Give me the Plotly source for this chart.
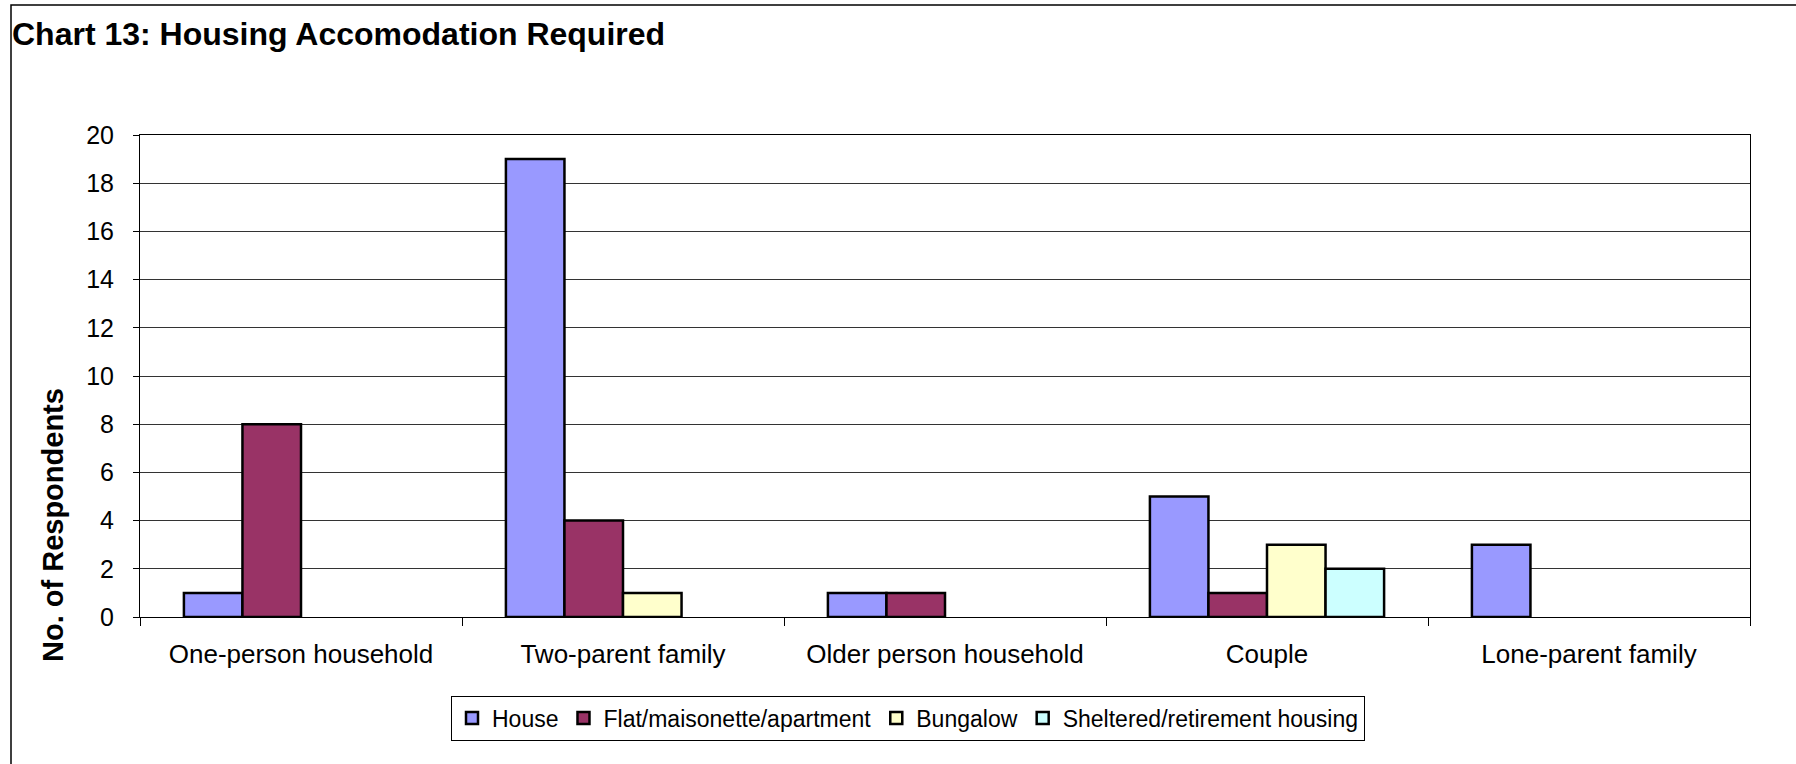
import plotly.graph_objects as go

# Household types and counts of respondents per accommodation type
categories = ["One-person household", "Two-parent family", "Older person household",
              "Couple", "Lone-parent family"]
house = [1, 19, 1, 5, 3]
flat = [8, 4, 1, 1, 0]
bungalow = [0, 1, 0, 3, 0]
sheltered = [0, 0, 0, 2, 0]
y_ticks = [0, 2, 4, 6, 8, 10, 12, 14, 16, 18, 20]

series = [
    ("House", house, "#9999FF"),
    ("Flat/maisonette/apartment", flat, "#993366"),
    ("Bungalow", bungalow, "#FFFFCC"),
    ("Sheltered/retirement housing", sheltered, "#CCFFFF"),
]

FONT = "Liberation Sans, Arial, Helvetica, sans-serif"
W, H = 1796, 764
L, R, T, B = 140, 46, 135, 147
pw, ph = W - L - R, H - T - B

fig = go.Figure()
for name, vals, color in series:
    # empty cells (zero counts) draw no bar outline on the baseline
    fig.add_trace(go.Bar(
        x=categories, y=[v if v else None for v in vals], name=name,
        marker=dict(color=color, line=dict(color="black", width=2.5)),
    ))

fig.update_layout(
    width=W, height=H,
    margin=dict(l=L, r=R, t=T, b=B),
    paper_bgcolor="white", plot_bgcolor="white",
    barmode="group", bargap=1.5 / 5.5, bargroupgap=0,
    font=dict(family=FONT, color="black"),
    title=dict(
        text="<b>Chart 13: Housing Accomodation Required</b>",
        font=dict(size=32, family=FONT, color="black"),
        xref="container", x=12 / W, xanchor="left",
        yref="container", y=1 - 34 / H, yanchor="middle",
    ),
    legend=dict(
        orientation="h",
        xref="container", x=908 / W, xanchor="center",
        yref="container", y=1 - 718 / H, yanchor="middle",
        bordercolor="black", borderwidth=1, bgcolor="white",
        font=dict(size=23, family=FONT, color="black"),
        itemwidth=30, tracegroupgap=0,
    ),
    showlegend=True,
)

fig.update_xaxes(
    type="category", tickson="boundaries",
    ticks="outside", ticklen=8, tickcolor="black", tickwidth=1,
    showline=True, linecolor="black", linewidth=1, mirror=True,
    showgrid=False,
    tickfont=dict(size=26, family=FONT, color="black"),
    ticklabelstandoff=14,
)
fig.update_yaxes(
    range=[0, 20], tickvals=y_ticks,
    ticks="outside", ticklen=6, tickcolor="black", tickwidth=1,
    showline=True, linecolor="black", linewidth=1, mirror=True,
    showgrid=True, gridcolor="#333333", gridwidth=1,
    zeroline=False,
    tickfont=dict(size=25, family=FONT, color="black"),
    ticklabelstandoff=14,
)

# Axis title placed low on the left, as in the original chart layout
fig.add_annotation(
    text="<b>No. of Respondents</b>", textangle=-90,
    xref="paper", yref="paper",
    x=(53 - L) / pw, y=(H - B - 525) / ph,
    xanchor="center", yanchor="middle", showarrow=False,
    font=dict(size=29, family=FONT, color="black"),
)

# Outer chart frame
fig.add_shape(
    type="rect", xref="paper", yref="paper",
    x0=(11 - L) / pw, x1=(W + 10 - L) / pw,
    y0=(H - B - (H + 10)) / ph, y1=(H - B - 5) / ph,
    line=dict(color="black", width=1.5), fillcolor="rgba(0,0,0,0)",
    layer="below",
)

fig.write_html("out.html")
